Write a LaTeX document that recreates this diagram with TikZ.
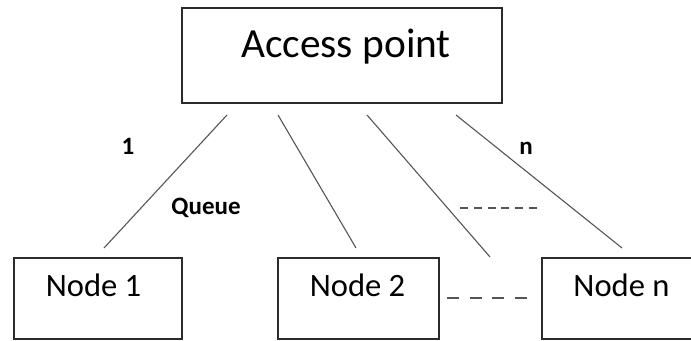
\documentclass[tikz,border=0pt]{standalone}
\usepackage{fontspec}
\setmainfont{Carlito}

\begin{document}
\begin{tikzpicture}[x=0.5pt,y=-0.5pt,
  unitBox/.style={draw=boxEdge,line width=0.8pt,inner sep=0pt,minimum height=40.5pt},
  link/.style={draw=linkGray,line width=0.55pt},
  tag/.style={font=\fontsize{12.5}{14}\selectfont\bfseries,anchor=base,inner sep=0pt}]
\definecolor{boxEdge}{HTML}{2B2B2B}
\definecolor{linkGray}{HTML}{555555}
\useasboundingbox (0,0) rectangle (691,341);
% boxes
\node[unitBox,minimum width=160pt,minimum height=47.5pt] (ap) at (342,55.5) {};
\node[unitBox,minimum width=84pt] (n1) at (98,298.5) {};
\node[unitBox,minimum width=80.5pt] (n2) at (358.5,298.5) {};
\node[unitBox,minimum width=80pt] (nn) at (622,298.5) {};
\node[anchor=base,inner sep=0pt,font=\fontsize{20.7}{24}\selectfont] (apText) at (346,58) {Access point};
\foreach \n/\x/\t in {n1/93.5/Node 1,n2/357.5/Node 2,nn/621.5/Node n} {
  \node[anchor=base,inner sep=0pt,font=\fontsize{16.3}{19}\selectfont] (\n-text) at (\x,297) {\t};
}
% links
\coordinate (top1) at (227,115); \coordinate (bot1) at (104,248);
\coordinate (top2) at (278,115); \coordinate (bot2) at (356,248);
\coordinate (top3) at (367,115); \coordinate (bot3) at (490,257);
\coordinate (top4) at (456,115); \coordinate (bot4) at (622,248);
\foreach \i in {1,...,4} {
  \draw[link] (top\i) -- (bot\i);
}
\node[tag] (oneTag) at (128,155) {1};
\node[tag] (queueTag) at (206,215) {Queue};
\node[tag] (nTag) at (526,155) {n};
% dots between the links and the nodes
\draw[linkGray,line width=0.6pt,dash pattern=on 4pt off 2.9pt] (460,208) -- (537,208);
\draw[linkGray,line width=0.6pt,dash pattern=on 6pt off 5.33pt] (447,298) -- (527,298);
\end{tikzpicture}
\end{document}
